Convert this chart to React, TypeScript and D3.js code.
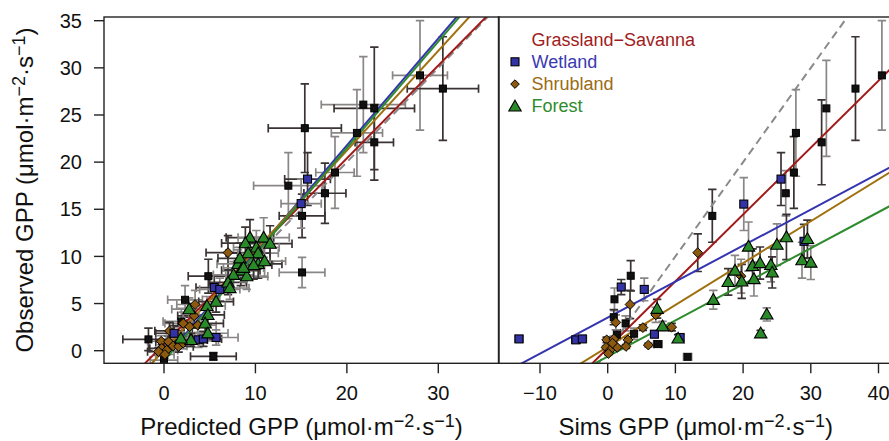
import React from 'react';
import * as d3 from 'd3';

// ---------- data ----------
const yTicks = [0, 5, 10, 15, 20, 25, 30, 35];
const predTicks = [0, 10, 20, 30];
const simsTicks = [-10, 0, 10, 20, 30, 40];
const legendLabels = ['Grassland\u2212Savanna', 'Wetland', 'Shrubland', 'Forest'];

// [x, y, xErr, yErr]
const predGrass = [
  [15.4, 23.6, 4.0, 4.7], [21.8, 26.1, 4.6, 5.1], [23.0, 25.7, 4.4, 6.5], [28.0, 29.2, 3.0, 5.8],
  [30.5, 27.8, 3.9, 5.5], [21.1, 23.1, 2.8, 4.6], [23.0, 22.1, 2.1, 4.0], [18.7, 18.9, 2.1, 3.8],
  [17.6, 16.7, 2.3, 3.2], [13.6, 17.5, 3.8, 3.5], [15.1, 14.3, 2.5, 2.3], [15.1, 8.3, 2.5, 1.6],
  [4.85, 7.9, 2.2, 1.8], [2.3, 5.4, 1.9, 1.5], [-1.7, 1.2, 2.8, 1.2], [0.0, -1.0, 1.5, 0.8],
  [5.4, -0.6, 2.5, 0.4], [1.9, 3.1, 2.0, 1.4],
];
const predWetland = [
  [15.7, 18.2, 2.5, 2.8], [15.0, 15.6, 2.2, 2.6], [5.5, 6.7, 2.0, 1.2], [6.1, 6.5, 2.2, 1.2],
  [1.1, 1.85, 2.0, 0.8], [3.75, 1.15, 2.2, 0.8], [4.3, 1.25, 2.0, 0.8], [5.7, 1.4, 2.4, 0.8],
];
const predShrub = [
  [7.0, 10.4, 2.4, 1.8], [3.4, 4.9, 2.0, 1.5], [3.3, 3.7, 1.8, 1.3], [2.1, 2.9, 2.0, 1.2],
  [2.8, 2.55, 1.8, 1.0], [3.7, 2.7, 2.0, 1.1], [0.6, 2.1, 1.6, 0.9], [-0.3, 1.0, 1.5, 0.6],
  [0.5, 0.95, 1.4, 0.6], [1.0, 0.5, 1.5, 0.5], [-0.25, 0.25, 1.3, 0.4], [0.3, 0.05, 1.2, 0.4],
  [1.6, 0.45, 1.6, 0.6], [2.1, 0.8, 1.7, 0.6], [-0.6, -0.1, 1.2, 0.4], [0.1, -0.4, 1.0, 0.4],
];
const predForest = [
  [9.4, 12.0, 2.6, 1.9], [10.9, 12.0, 2.8, 2.1], [11.6, 11.35, 2.4, 1.9], [10.1, 10.95, 2.5, 1.8],
  [8.9, 11.4, 2.6, 1.7], [10.3, 10.35, 2.2, 1.7], [9.2, 10.35, 2.4, 1.6], [8.1, 9.2, 2.3, 1.5],
  [8.4, 8.5, 2.1, 1.6], [9.05, 7.9, 2.3, 1.4], [10.3, 9.2, 2.6, 1.5], [7.6, 8.05, 2.2, 1.4],
  [7.0, 7.25, 2.0, 1.3], [7.2, 6.65, 2.1, 1.2], [5.7, 5.2, 1.9, 1.1], [4.7, 4.75, 2.0, 1.0],
  [4.8, 3.8, 1.8, 1.0], [2.75, 4.4, 1.9, 1.2], [4.5, 2.9, 2.0, 0.9], [4.8, 1.85, 2.2, 0.8],
  [2.95, 1.15, 1.8, 0.7], [1.85, 1.3, 1.6, 0.7], [8.3, 9.8, 2.4, 1.6], [11.0, 9.5, 2.3, 1.7],
  [9.8, 9.1, 2.0, 1.5], [8.7, 8.8, 2.2, 1.5],
];

const simsGrass = [
  [15.45, 14.3, 0, 2.8], [27.8, 23.1, 0, 4.6], [27.5, 18.9, 0, 3.8], [26.3, 16.7, 0, 2.4],
  [31.6, 22.1, 0, 4.5], [32.3, 25.7, 0, 5.1], [36.6, 27.8, 0, 5.5], [40.5, 29.2, 0, 5.8],
  [3.4, 7.95, 0, 1.6], [1.0, 5.45, 0, 1.2], [0.9, 3.55, 0, 0.8], [2.65, 2.9, 0, 0.8],
  [1.35, 1.7, 0, 0.5], [3.9, 1.8, 0, 0.6], [7.4, 0.7, 0.6, 0.2], [11.8, -0.65, 0.6, 0.2],
];
const simsWetland = [
  [25.6, 18.2, 0, 2.8], [20.1, 15.55, 0, 2.8], [29.0, 11.6, 0, 1.8], [-13.1, 1.25, 0.6, 0],
  [-4.7, 1.15, 0.6, 0], [-3.75, 1.25, 0.6, 0], [2.0, 6.75, 0, 0.8], [5.4, 6.5, 0, 1.2],
  [6.9, 1.75, 0, 0.3], [10.7, 1.4, 0, 0.3],
];
const simsShrub = [
  [13.3, 10.4, 0, 2.0], [19.7, 7.9, 0, 1.8], [3.3, 4.9, 0, 1.5], [1.2, 3.0, 0, 0.8],
  [5.2, 2.45, 0, 0.3], [7.1, 3.8, 0, 0.8], [9.45, 2.5, 0, 0.4], [6.0, 0.6, 0, 0.2],
  [-0.15, 1.15, 0, 0.3], [0.9, 1.25, 0, 0.3], [3.0, 1.15, 0, 0.3], [-0.25, 0.35, 0, 0.2],
  [0.35, 0.05, 0, 0.2], [1.4, 0.35, 0, 0.2], [2.7, 0.45, 0, 0.2], [0.1, -0.3, 0, 0.2],
  [0.7, 0.8, 0, 0.2],
];
const simsForest = [
  [7.3, 4.45, 0, 1.0], [8.1, 2.6, 0, 0.5], [10.4, 1.3, 0, 0.4], [15.6, 5.4, 0, 1.0],
  [17.8, 7.3, 0, 1.4], [18.8, 8.5, 0, 1.6], [19.8, 7.35, 0, 1.8], [20.8, 11.05, 0, 2.6],
  [21.4, 9.0, 0, 1.8], [21.6, 7.6, 0, 1.8], [22.5, 9.3, 0, 1.7], [23.5, 3.85, 0, 0.7],
  [22.6, 1.85, 0, 0.3], [24.1, 9.1, 0, 1.8], [24.3, 8.3, 0, 1.65], [25.0, 11.25, 0, 2.2],
  [26.4, 12.05, 0, 2.4], [28.7, 9.6, 0, 1.9], [29.5, 11.85, 0, 2.0], [30.0, 9.35, 0, 1.8],
];

// regression lines: [intercept, slope] for Grassland, Wetland, Shrubland, Forest
const predFits = [[0.7, 0.985], [-0.9, 1.134], [0.068, 1.058], [-1.08, 1.129]];
const simsFits = [[0.27, 0.709], [3.51, 0.382], [0.41, 0.444], [-0.62, 0.383]];

// ---------- styling ----------
const W = 889, H = 441;
const TOP = 17, BOTTOM = 363.3;
const L = { x0: 104, x1: 499 };
const R = { x0: 498.5, x1: 893 };
const lineColors = ['#a01a1a', '#3434b0', '#a0700f', '#2e8b2e'];
const textColors = ['#a01c1c', '#3a3ab0', '#9a6a14', '#2e8b2e'];
const fills = ['#111111', '#3333a6', '#8b5a10', '#2a8a2a'];
const FONT = "'Liberation Sans', Arial, Helvetica, sans-serif";
const barColors = ['#3b3333', '#8a8686'];

const yScale = d3.scaleLinear().domain([0, 35]).range([350.7, 20.7]);
const xPred = d3.scaleLinear().domain([0, 30]).range([164, 438.3]);
const xSims = d3.scaleLinear().domain([0, 40]).range([607.7, 878.5]);

function marker(kind: number, cx: number, cy: number, key: string, legend = false) {
  if (kind === 0) {
    const s = 7;
    return <rect key={key} x={cx - s / 2} y={cy - s / 2} width={s} height={s} fill={fills[0]} stroke="#000" strokeWidth={1} />;
  }
  if (kind === 1) {
    const s = 8;
    return <rect key={key} x={cx - s / 2} y={cy - s / 2} width={s} height={s} fill={fills[1]} stroke="#000" strokeWidth={1.1} />;
  }
  if (kind === 2) {
    const d = legend ? 4.3 : 4.9;
    return <path key={key} d={`M${cx},${cy - d}L${cx + d},${cy}L${cx},${cy + d}L${cx - d},${cy}Z`} fill={fills[2]} stroke="#000" strokeWidth={1} />;
  }
  const w = 6.2, up = 6.2, dn = 4.6;
  return <path key={key} d={`M${cx},${cy - up}L${cx + w},${cy + dn}L${cx - w},${cy + dn}Z`} fill={fills[3]} stroke="#000" strokeWidth={1.1} />;
}

function errorBars(data: number[][], xs: d3.ScaleLinear<number, number>, pfx: string) {
  const out: any[] = [];
  const cap = 4.2;
  data.forEach((p, i) => {
    const [x, y, xe, ye] = p;
    const c = barColors[i % 2];
    const px = xs(x), py = yScale(y);
    if (ye > 0) {
      const a = yScale(y + ye), b = yScale(y - ye);
      out.push(<path key={`${pfx}v${i}`} d={`M${px},${a}V${b}M${px - cap},${a}H${px + cap}M${px - cap},${b}H${px + cap}`} stroke={c} strokeWidth={1.7} fill="none" />);
    }
    if (xe > 0) {
      const a = xs(x - xe), b = xs(x + xe);
      out.push(<path key={`${pfx}h${i}`} d={`M${a},${py}H${b}M${a},${py - cap}V${py + cap}M${b},${py - cap}V${py + cap}`} stroke={c} strokeWidth={1.7} fill="none" />);
    }
  });
  return out;
}

function fitLines(fits: number[][], xs: d3.ScaleLinear<number, number>, x0: number, x1: number, pfx: string) {
  const d0 = xs.invert(x0), d1 = xs.invert(x1);
  const line = d3.line<number>().x(d => xs(d)).y(d => 0);
  return fits.map((f, i) => {
    const [b, m] = f;
    const pts = [d0, d1];
    const path = d3.line<number>().x(d => xs(d)).y(d => yScale(b + m * d))(pts) as string;
    return <path key={`${pfx}f${i}`} d={path} stroke={lineColors[i]} strokeWidth={2} fill="none" />;
  });
}

function oneToOne(xs: d3.ScaleLinear<number, number>, x0: number, x1: number) {
  const d0 = xs.invert(x0), d1 = xs.invert(x1);
  const path = d3.line<number>().x(d => xs(d)).y(d => yScale(d))([d0, d1]) as string;
  return <path d={path} stroke="#8a8a8a" strokeWidth={2} strokeDasharray="8,5" fill="none" />;
}

function Title({ x, y, label, rotate }: { x: number; y: number; label: string; rotate?: boolean }) {
  return (
    <text transform={`translate(${x},${y})${rotate ? ' rotate(-90)' : ''}`} textAnchor="middle" fontSize={24} fontFamily={FONT} fill="#111">
      {label} (μmol·m<tspan dy={-8} fontSize={18}>{'\u22122'}</tspan><tspan dy={8}>·s</tspan><tspan dy={-8} fontSize={18}>{'\u22121'}</tspan><tspan dy={8}>)</tspan>
    </text>
  );
}

export default function App() {
  const predSets = [predGrass, predWetland, predShrub, predForest];
  const simsSets = [simsGrass, simsWetland, simsShrub, simsForest];
  const order = [0, 2, 1, 3];
  return (
    <svg width={W} height={H} style={{ position: 'absolute', left: 0, top: 0, background: '#fff' }}>
      <defs>
        <clipPath id="clipL"><rect x={L.x0} y={TOP} width={L.x1 - L.x0} height={BOTTOM - TOP} /></clipPath>
        <clipPath id="clipR"><rect x={R.x0} y={TOP} width={R.x1 - R.x0} height={BOTTOM - TOP} /></clipPath>
      </defs>
      <rect x={0} y={0} width={W} height={H} fill="#fff" />

      {/* left panel */}
      <g clipPath="url(#clipL)">
        {predSets.map((s, k) => <g key={`pe${k}`}>{errorBars(s, xPred, `p${k}`)}</g>)}
        {oneToOne(xPred, L.x0, L.x1)}
        {fitLines(predFits, xPred, L.x0, L.x1, 'p')}
        {order.map(k => <g key={`pm${k}`}>{predSets[k].map((p, i) => marker(k, xPred(p[0]), yScale(p[1]), `pm${k}_${i}`))}</g>)}
      </g>

      {/* right panel */}
      <g clipPath="url(#clipR)">
        {simsSets.map((s, k) => <g key={`se${k}`}>{errorBars(s, xSims, `s${k}`)}</g>)}
        {oneToOne(xSims, R.x0, R.x1)}
        {fitLines(simsFits, xSims, R.x0, R.x1, 's')}
        {order.map(k => <g key={`sm${k}`}>{simsSets[k].map((p, i) => marker(k, xSims(p[0]), yScale(p[1]), `sm${k}_${i}`))}</g>)}
      </g>

      {/* frames */}
      <rect x={L.x0} y={TOP} width={L.x1 - L.x0} height={BOTTOM - TOP} fill="none" stroke="#222" strokeWidth={1.4} />
      <rect x={R.x0} y={TOP} width={R.x1 - R.x0} height={BOTTOM - TOP} fill="none" stroke="#222" strokeWidth={1.4} />

      {/* y axis */}
      {yTicks.map(t => (
        <g key={`yt${t}`}>
          <line x1={94} x2={L.x0} y1={yScale(t)} y2={yScale(t)} stroke="#222" strokeWidth={1.4} />
          <text x={82} y={yScale(t)} dy="0.36em" textAnchor="end" fontSize={20} fontFamily={FONT} fill="#111">{t}</text>
        </g>
      ))}
      {/* x axes */}
      {predTicks.map(t => (
        <g key={`xp${t}`}>
          <line x1={xPred(t)} x2={xPred(t)} y1={BOTTOM} y2={BOTTOM + 10} stroke="#222" strokeWidth={1.4} />
          <text x={xPred(t)} y={400} textAnchor="middle" fontSize={20} fontFamily={FONT} fill="#111">{t}</text>
        </g>
      ))}
      {simsTicks.map(t => (
        <g key={`xs${t}`}>
          <line x1={xSims(t)} x2={xSims(t)} y1={BOTTOM} y2={BOTTOM + 10} stroke="#222" strokeWidth={1.4} />
          <text x={xSims(t)} y={400} textAnchor="middle" fontSize={20} fontFamily={FONT} fill="#111">{t < 0 ? `\u2212${-t}` : t}</text>
        </g>
      ))}

      <Title x={(L.x0 + L.x1) / 2} y={435} label="Predicted GPP" />
      <Title x={(R.x0 + R.x1) / 2} y={435} label="Sims GPP" />
      <Title x={33} y={190} label="Observed GPP" rotate />

      {/* legend */}
      {legendLabels.map((lab, i) => (
        <g key={`lg${i}`}>
          {i > 0 && marker(i, 515, 39.5 + 22.3 * i, `lgm${i}`, true)}
          <text x={531.5} y={45.5 + 22.3 * i} fontSize={18} fontFamily={FONT} fill={textColors[i]}>{lab}</text>
        </g>
      ))}
    </svg>
  );
}
